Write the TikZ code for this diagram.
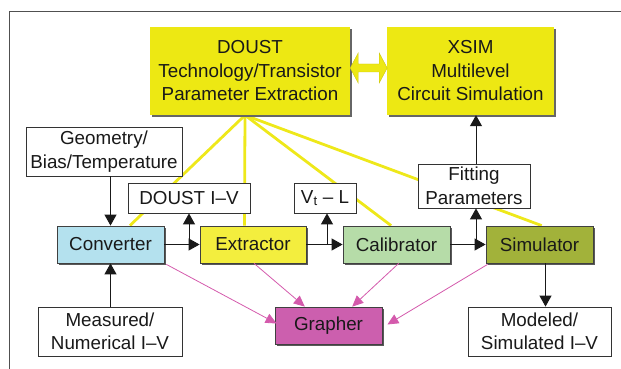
\documentclass[tikz,border=0pt]{standalone}
\usepackage{fontspec}
\setmainfont{Liberation Sans}
\usetikzlibrary{arrows.meta,shadows,calc,backgrounds}
\definecolor{bigyellow}{RGB}{237,232,19}
\definecolor{lineyellow}{RGB}{238,232,26}
\definecolor{extryellow}{RGB}{243,238,62}
\definecolor{convblue}{RGB}{180,225,238}
\definecolor{calgreen}{RGB}{182,220,168}
\definecolor{simolive}{RGB}{162,178,58}
\definecolor{grmag}{RGB}{204,95,174}
\definecolor{arrmag}{RGB}{212,90,172}
\definecolor{txt}{RGB}{25,25,25}
\definecolor{framegray}{RGB}{80,80,80}
\begin{document}
\begin{tikzpicture}[x=1pt,y=-1pt,
  every node/.style={font=\fontsize{18.8}{23.5}\selectfont, text=txt, align=center, inner sep=0pt},
  bigbox/.style={rectangle, fill=bigyellow,
    drop shadow={shadow xshift=2pt,shadow yshift=-2pt,fill=black!60,opacity=1}},
  colbox/.style={rectangle, draw=black!75, line width=0.8pt, minimum width=107pt, minimum height=37pt,
    drop shadow={shadow xshift=2pt,shadow yshift=-2pt,fill=black!65,opacity=1}},
  wbox/.style={rectangle, draw=black!80, fill=white, line width=0.8pt},
  blk/.style={draw=black!90, line width=1pt, -{Triangle[length=11pt,width=12pt]}},
  mag/.style={draw=arrmag, line width=0.8pt, -{Triangle[length=11pt,width=10pt]}},
  yel/.style={draw=lineyellow, line width=2.8pt}
]
\useasboundingbox (0,0) rectangle (621,369);
% frame
\draw[framegray, line width=0.9pt] (9,369) -- (9,11) -- (621,11);

% nodes
\node[bigbox, minimum width=200pt, minimum height=88pt] (doust) at (250,71)
  {DOUST\\Technology/Transistor\\Parameter Extraction};
\node[bigbox, minimum width=167pt, minimum height=88pt] (xsim) at (470.5,71)
  {XSIM\\Multilevel\\Circuit Simulation};
\node[wbox, minimum width=156pt, minimum height=49pt] (geom) at (104,151.5)
  {Geometry/\\Bias/Temperature};
\node[wbox, minimum width=122pt, minimum height=30pt] (doustiv) at (189,198) {DOUST I--V};
\node[wbox, minimum width=62pt, minimum height=30pt] (vtl) at (325,198) {V\textsubscript{t} -- L};
\node[wbox, minimum width=112pt, minimum height=44pt] (fit) at (474,186) {Fitting\\Parameters};
\node[colbox, fill=convblue] (conv) at (110.5,244.5) {Converter};
\node[colbox, fill=extryellow, minimum width=106pt] (extr) at (253,244.5) {Extractor};
\node[colbox, fill=calgreen] (calib) at (396.5,244.5) {Calibrator};
\node[colbox, fill=simolive] (sim) at (539.5,244.5) {Simulator};
\node[wbox, minimum width=144pt, minimum height=49pt] (meas) at (110,331.5) {Measured/\\Numerical I--V};
\node[colbox, fill=grmag] (graph) at (328.5,325.5) {Grapher};
\node[wbox, minimum width=143pt, minimum height=49pt] (model) at (539.5,331.5) {Modeled/\\Simulated I--V};

% yellow fan lines behind boxes
\coordinate (P) at ($(doust.south)+(-5,0)$);
\begin{pgfonlayer}{background}
  \draw[yel] (P) -- ($(conv.north west)!0.68!(conv.north east)$);
  \draw[yel] (P) -- ($(extr.north west)!0.42!(extr.north east)$);
  \draw[yel] (P) -- ($(calib.north west)!0.45!(calib.north east)$);
  \draw[yel] (P) -- ($(sim.north west)!0.52!(sim.north east)$);
\end{pgfonlayer}

% double arrow between DOUST and XSIM
\filldraw[fill=bigyellow, draw=bigyellow!85!black, line width=0.4pt]
  ($(doust.east)+(0,-3)$) -- ++(8,-15) -- ++(0,11) -- ++(21,0) -- ++(0,-11)
  -- ++(8,15) -- ++(-8,15) -- ++(0,-11) -- ++(-21,0) -- ++(0,11) -- cycle;

% helper coordinates
\coordinate (convtop) at (conv.north);
\coordinate (convbot) at (conv.south);
\coordinate (geomfoot) at (geom.south -| convtop);
\coordinate (meastop) at (meas.north -| convbot);
\coordinate (ivfoot) at (doustiv.south);
\coordinate (ivbranch) at (ivfoot |- conv.east);
\coordinate (vtfoot) at ($(vtl.south)+(2,0)$);
\coordinate (vtbranch) at (vtfoot |- extr.east);
\coordinate (fitfoot) at ($(fit.south)+(2,0)$);
\coordinate (fitbranch) at (fitfoot |- calib.east);
\coordinate (fithead) at ($(fit.north)+(2,0)$);
\coordinate (xsimfoot) at (fithead |- xsim.south);
\coordinate (simfoot) at ($(sim.south)+(6,0)$);
\coordinate (modtop) at ($(model.north)+(6,0)$);

% black arrows
\draw[blk] (geomfoot) -- (convtop);
\draw[blk] (meastop) -- (convbot);
\draw[blk] (conv.east) -- (extr.west);
\draw[blk] (ivbranch) -- (ivfoot);
\draw[blk] (extr.east) -- (calib.west);
\draw[blk] (vtbranch) -- (vtfoot);
\draw[blk] (calib.east) -- (sim.west);
\draw[blk] (fitbranch) -- (fitfoot);
\draw[blk] (fithead) -- (xsimfoot);
\draw[blk] (simfoot) -- (modtop);

% magenta arrows to grapher
\draw[mag] ($(conv.south east)+(2,1)$) -- ($(graph.west)+(2,-2)$);
\draw[mag] ($(extr.south west)!0.51!(extr.south east)$) -- ($(graph.north west)!0.28!(graph.north east)$);
\draw[mag] ($(calib.south west)!0.52!(calib.south east)$) -- ($(graph.north west)!0.72!(graph.north east)$);
\draw[mag] ($(sim.south west)+(2,1)$) -- ($(graph.east)+(5,-1)$);
\end{tikzpicture}
\end{document}
